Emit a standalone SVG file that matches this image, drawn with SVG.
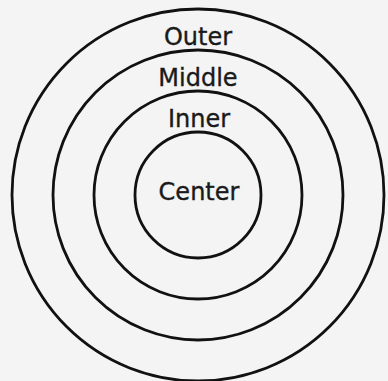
<svg xmlns="http://www.w3.org/2000/svg" width="388" height="381" viewBox="0 0 388 381">
<style>
.ring{fill:none;stroke:#111;stroke-width:2.8}
.lbl{font-family:"DejaVu Sans",sans-serif;font-size:24px;fill:#1a1a1a;stroke:#1a1a1a;stroke-width:0.35;text-anchor:middle}
</style>
<rect width="388" height="381" fill="#f4f4f4"/>
<g id="outer"><circle class="ring" cx="198" cy="195" r="186"/><text class="lbl" x="198" y="45">Outer</text></g>
<g id="middle"><circle class="ring" cx="198" cy="195" r="145"/><text class="lbl" x="198" y="86">Middle</text></g>
<g id="inner"><circle class="ring" cx="198" cy="195" r="104"/><text class="lbl" x="199" y="127">Inner</text></g>
<g id="center"><circle class="ring" cx="198" cy="195" r="63"/><text class="lbl" x="199" y="200">Center</text></g>
<g id="connectors"/>
</svg>
